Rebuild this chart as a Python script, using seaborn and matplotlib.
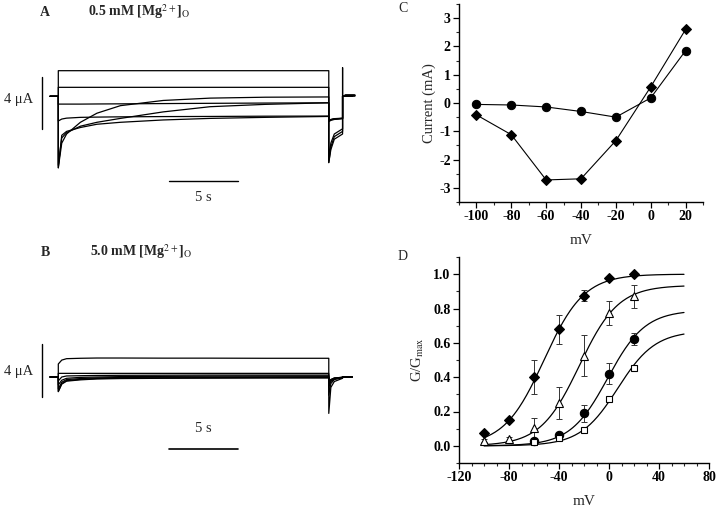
import numpy as np
import pandas as pd
import matplotlib
matplotlib.use('Agg')
import matplotlib.pyplot as plt
import seaborn as sns
from matplotlib.ticker import MultipleLocator

# --- Panels A/B: current traces (time in s, current in uA) ---
STEP_T = [-0.6, 0.0, 0.0, 0.25, 0.6, 1.6, 2.8, 4.5, 7.6, 11.0, 15.0, 19.6]
TAIL_T = [19.6, 19.75, 20.0, 20.6, 20.6, 20.6, 21.3]

A_STEP = [
    [0, 0, 1.97, 1.97, 1.97, 1.97, 1.97, 1.97, 1.97, 1.97, 1.97, 1.97],
    [0, 0, 0.69, 0.69, 0.69, 0.69, 0.69, 0.69, 0.69, 0.69, 0.69, 0.69],
    [0, 0, -0.6, -0.6, -0.6, -0.6, -0.59, -0.58, -0.56, -0.54, -0.52, -0.5],
    [0, 0, -5.5, -3.6, -2.9, -2.0, -1.3, -0.72, -0.32, -0.14, -0.07, -0.05],
    [0, 0, -5.3, -3.2, -2.8, -2.3, -2.0, -1.7, -1.2, -0.8, -0.62, -0.5],
    [0, 0, -1.9, -1.75, -1.68, -1.62, -1.6, -1.58, -1.56, -1.55, -1.53, -1.52],
    [0, 0, -5.5, -3.0, -2.7, -2.4, -2.15, -2.0, -1.82, -1.7, -1.62, -1.55],
]
A_TAIL = [
    [-1.85, -1.78, -1.72, -1.68, 2.2, 0, 0],
    [-1.9, -1.8, -1.74, -1.7, 0, 0, 0],
    [-1.95, -1.85, -1.78, -1.72, 0, 0, 0],
    [-4.9, -3.6, -2.9, -2.5, 0, 0, 0],
    [-5.1, -3.9, -3.1, -2.7, 0, 0, 0],
    [-1.85, -1.8, -1.75, -1.7, 0, 0, 0],
    [-5.1, -4.1, -3.3, -2.9, 0, 0, 0],
]

B_STEP = [
    [0, 0, 1.0, 1.3, 1.41, 1.44, 1.46, 1.46, 1.45, 1.45, 1.44, 1.44],
    [0, 0, 0.28, 0.28, 0.28, 0.28, 0.28, 0.28, 0.28, 0.28, 0.28, 0.28],
    [0, 0, -0.3, 0.0, 0.08, 0.1, 0.12, 0.13, 0.14, 0.15, 0.15, 0.15],
    [0, 0, -0.6, -0.25, -0.1, -0.03, 0.0, 0.03, 0.05, 0.07, 0.08, 0.08],
    [0, 0, -0.9, -0.4, -0.2, -0.12, -0.07, -0.04, -0.01, 0.0, 0.01, 0.02],
    [0, 0, -1.1, -0.5, -0.28, -0.18, -0.12, -0.09, -0.06, -0.05, -0.04, -0.03],
    [0, 0, -1.13, -0.55, -0.32, -0.22, -0.15, -0.12, -0.1, -0.09, -0.08, -0.08],
]
B_TAIL = [
    [-2.8, -0.8, -0.35, -0.1, 0, 0, 0],
    [-1.4, -0.5, -0.2, -0.05, 0, 0, 0],
    [-0.8, -0.35, -0.15, -0.04, 0, 0, 0],
    [-0.6, -0.3, -0.12, -0.03, 0, 0, 0],
    [-0.5, -0.25, -0.1, -0.03, 0, 0, 0],
    [-0.4, -0.2, -0.08, -0.02, 0, 0, 0],
    [-0.4, -0.2, -0.08, -0.02, 0, 0, 0],
]

# --- Panel C: I-V ---
V_C = [-100, -80, -60, -40, -20, 0, 20]
I_circle = [-0.05, -0.07, -0.14, -0.3, -0.5, 0.18, 1.85]
I_diamond = [-0.42, -1.12, -2.72, -2.68, -1.33, 0.57, 2.6]

# --- Panel D: G/Gmax ---
V_D = [-100, -80, -60, -40, -20, 0, 20]
G_diamond = [0.075, 0.15, 0.40, 0.68, 0.875, 0.975, 1.0]
E_diamond = [0.0, 0.0, 0.10, 0.085, 0.03, 0.01, 0.0]
G_triangle = [0.03, 0.04, 0.105, 0.25, 0.525, 0.775, 0.87]
E_triangle = [0.01, 0.01, 0.06, 0.095, 0.12, 0.07, 0.065]
V_D2 = [-60, -40, -20, 0, 20]
G_circle = [0.03, 0.065, 0.19, 0.42, 0.625]
E_circle = [0.01, 0.01, 0.05, 0.06, 0.035]
G_square = [0.025, 0.045, 0.09, 0.275, 0.455]
E_square = [0.005, 0.01, 0.01, 0.01, 0.015]

# Boltzmann fits: Gmax, V1/2, slope
FIT_GMAX = [1.0, 0.935, 0.79, 0.67]
FIT_VHALF = [-52, -23.7, -1, 7]
FIT_K = [16, 15.6, 15, 15]

sns.set_style("ticks")
plt.rcParams['font.family'] = ['Liberation Serif', 'DejaVu Serif']
plt.rcParams['mathtext.fontset'] = 'stix'
plt.rcParams['axes.unicode_minus'] = False

fig = plt.figure(figsize=(7.2, 5.09), dpi=100)
W, H = 720.0, 509.0

def fx(px):
    return px / W

def fy(py):
    return 1 - py / H

# pixel mapping for traces: 13.8 px per s, 13 px per uA
PX_S, PX_UA, T0_PX = 13.8, 13.0, 58.3

def trace_axes(top, bottom, base):
    ax = fig.add_axes([0, fy(bottom), 360 / W, (bottom - top) / H])
    ax.set_xlim(-T0_PX / PX_S, (360 - T0_PX) / PX_S)
    ax.set_ylim((base - bottom) / PX_UA, (base - top) / PX_UA)
    ax.axis('off')
    return ax

def trace_frame(step, tail):
    rows = []
    for k, (s, tl) in enumerate(zip(step, tail)):
        for i, (t, v) in enumerate(zip(STEP_T + TAIL_T, s + tl)):
            rows.append({"t": t, "I": v, "trace": k, "order": i})
    return pd.DataFrame(rows)

# Panel A
axA = trace_axes(55, 210, 96.3)
sns.lineplot(data=trace_frame(A_STEP, A_TAIL), x="t", y="I", units="trace",
             estimator=None, sort=False, color="black", lw=0.9, ax=axA)
axA.plot([-1.2, -1.2], [1.51, -2.52], color="black", lw=1.0)
axA.plot([8, 13], [-6.49, -6.49], color="black", lw=1.0)
axA.plot([20.75, 21.4], [0.12, 0.12], color="black", lw=2.0)
axA.text(10.5, -7.3, "5 s", ha="center", va="top", fontsize=10.5)

# Panel B
axB = trace_axes(300, 460, 377)
sns.lineplot(data=trace_frame(B_STEP, B_TAIL), x="t", y="I", units="trace",
             estimator=None, sort=False, color="black", lw=0.9, ax=axB)
axB.plot([-1.2, -1.2], [2.54, -1.52], color="black", lw=1.0)
axB.plot([8, 13], [-5.54, -5.54], color="black", lw=1.2)
axB.text(10.5, -4.0, "5 s", ha="center", va="center", fontsize=10.5)

fig.text(fx(33), fy(100), "4 \u03bcA", ha="right", va="center", fontsize=10.5)
fig.text(fx(33), fy(372), "4 \u03bcA", ha="right", va="center", fontsize=10.5)
fig.text(fx(40), fy(12), "A", ha="left", va="center", fontsize=10, fontweight="bold")
fig.text(fx(88), fy(12), r"0.5 mM [Mg$^{2+}$]$_{\rm O}$", ha="left", va="center",
         fontsize=10, fontweight="bold")
fig.text(fx(41), fy(252), "B", ha="left", va="center", fontsize=10, fontweight="bold")
fig.text(fx(90), fy(252), r"5.0 mM [Mg$^{2+}$]$_{\rm O}$", ha="left", va="center",
         fontsize=10, fontweight="bold")


def style_axes(ax):
    sns.despine(ax=ax)
    for s in ("left", "bottom"):
        ax.spines[s].set_linewidth(1.0)
        ax.spines[s].set_color("black")
    ax.tick_params(which="major", direction="out", length=4, width=0.9,
                   labelsize=10, pad=2, colors="black")
    ax.tick_params(which="minor", direction="out", length=2.5, width=0.8)
    for lab in ax.get_xticklabels() + ax.get_yticklabels():
        lab.set_fontweight("bold")


# Panel C
axC = fig.add_axes([fx(459), fy(202), 244 / W, 198 / H])
sns.lineplot(x=V_C, y=I_circle, marker="o", markersize=6, color="black",
             markeredgecolor="black", lw=0.8, ax=axC)
sns.lineplot(x=V_C, y=I_diamond, marker="D", markersize=5.5, color="black",
             markeredgecolor="black", lw=0.8, ax=axC)
axC.set_xlim(-110, 30)
axC.set_ylim(-3.5, 3.5)
axC.set_xticks([-100, -80, -60, -40, -20, 0, 20])
axC.set_yticks([-3, -2, -1, 0, 1, 2, 3])
axC.xaxis.set_minor_locator(MultipleLocator(10))
axC.yaxis.set_minor_locator(MultipleLocator(0.5))
axC.set_xlabel("mV", fontsize=11, labelpad=8)
axC.set_ylabel("Current (mA)", fontsize=10.5, labelpad=2)
style_axes(axC)
fig.text(fx(398), fy(8), "C", ha="left", va="center", fontsize=10)

# Panel D
axD = fig.add_axes([fx(459), fy(463), 250 / W, 206 / H])
v_fit = np.linspace(-100, 60, 161)
for gm, vh, k in zip(FIT_GMAX, FIT_VHALF, FIT_K):
    sns.lineplot(x=v_fit, y=gm / (1 + np.exp((vh - v_fit) / k)), color="black",
                 lw=0.9, ax=axD)

series = [
    (V_D, G_diamond, E_diamond, "D", "black", 5),
    (V_D, G_triangle, E_triangle, "^", "white", 6),
    (V_D2, G_circle, E_circle, "o", "black", 6),
    (V_D2, G_square, E_square, "s", "white", 5),
]
for vx, g, e, m, fc, ms in series:
    axD.errorbar(vx, g, yerr=e, fmt="none", ecolor="#333333", elinewidth=0.7,
                 capsize=2, capthick=0.7, zorder=2)
    sns.lineplot(x=vx, y=g, marker=m, markersize=ms, linestyle="", color="black",
                 markerfacecolor=fc, markeredgecolor="black", markeredgewidth=0.8,
                 ax=axD, zorder=3)
axD.set_xlim(-120, 80)
axD.set_ylim(-0.1, 1.1)
axD.set_xticks([-120, -80, -40, 0, 40, 80])
axD.set_yticks([0.0, 0.2, 0.4, 0.6, 0.8, 1.0])
axD.set_yticklabels(["0.0", "0.2", "0.4", "0.6", "0.8", "1.0"])
axD.xaxis.set_minor_locator(MultipleLocator(10))
axD.yaxis.set_minor_locator(MultipleLocator(0.1))
axD.set_xlabel("mV", fontsize=11, labelpad=8)
axD.set_ylabel(r"G/G$_{\rm max}$", fontsize=10.5, labelpad=5)
style_axes(axD)
fig.text(fx(398), fy(256), "D", ha="left", va="center", fontsize=10)

fig.savefig("out.png", dpi=100)
